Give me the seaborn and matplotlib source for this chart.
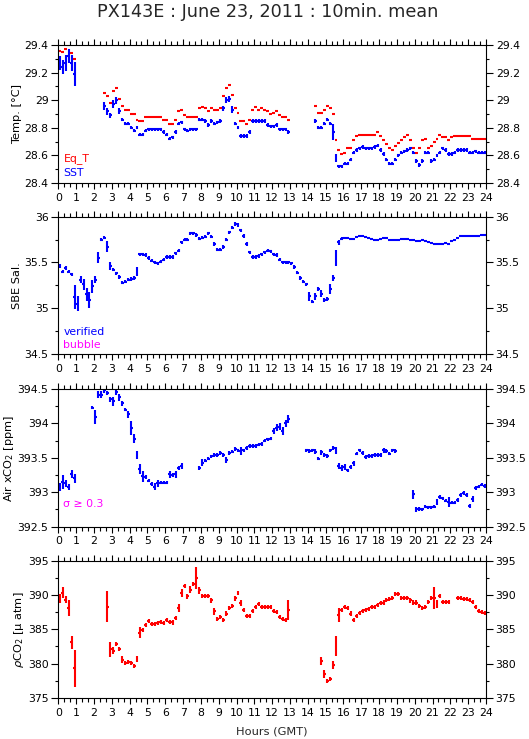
import numpy as np
import matplotlib
matplotlib.use("Agg")
import matplotlib.pyplot as plt
import seaborn as sns
from matplotlib.ticker import MultipleLocator, FuncFormatter

nan = np.nan

# 10-minute slots over the day (slot centres in hours)
hours = np.arange(144) / 6 + 1 / 12
half_slot = 1 / 12

eq_t = [29.36, 29.35, 29.37, 29.40, 29.34, 29.30, nan, nan, nan, nan, nan, nan,
        nan, nan, nan, 29.05, 29.03, 28.98, 29.07, 29.09, 29.01, 28.96, 28.93, 28.93,
        28.90, 28.90, 28.86, 28.85, 28.85, 28.88, 28.88, 28.88, 28.88, 28.88, 28.88, 28.86,
        28.86, 28.83, 28.83, 28.86, 28.92, 28.93, 28.89, 28.88, 28.88, 28.88, 28.88, 28.94,
        28.95, 28.94, 28.92, 28.94, 28.93, 28.93, 28.94, 29.03, 29.09, 29.11, 29.04, 28.94,
        28.91, 28.85, 28.85, 28.83, 28.86, 28.93, 28.95, 28.93, 28.94, 28.93, 28.92, 28.90,
        28.91, 28.92, 28.89, 28.88, 28.88, 28.86, nan, nan, nan, nan, nan, nan,
        nan, nan, 28.96, 28.91, 28.91, 28.93, 28.96, 28.94, 28.90, 28.71, 28.64, 28.61,
        28.62, 28.65, 28.65, 28.71, 28.74, 28.75, 28.75, 28.75, 28.75, 28.75, 28.75, 28.77,
        28.74, 28.71, 28.68, 28.65, 28.64, 28.67, 28.69, 28.71, 28.73, 28.75, 28.71, 28.65,
        28.62, 28.65, 28.71, 28.72, 28.65, 28.67, 28.70, 28.72, 28.75, 28.73, 28.73, 28.71,
        28.73, 28.74, 28.74, 28.74, 28.74, 28.74, 28.74, 28.72, 28.72, 28.72, 28.72, 28.72]

sst = [29.27, 29.24, 29.27, 29.32, 29.27, 29.19, nan, nan, nan, nan, nan, nan,
       nan, nan, nan, 28.96, 28.92, 28.89, 28.97, 29.00, 28.92, 28.86, 28.83, 28.83,
       28.80, 28.78, 28.80, 28.75, 28.75, 28.78, 28.79, 28.79, 28.79, 28.79, 28.79, 28.77,
       28.75, 28.72, 28.73, 28.77, 28.83, 28.84, 28.79, 28.78, 28.79, 28.79, 28.79, 28.86,
       28.86, 28.85, 28.82, 28.85, 28.83, 28.84, 28.85, 28.94, 29.00, 29.01, 28.93, 28.83,
       28.80, 28.74, 28.74, 28.74, 28.77, 28.85, 28.85, 28.85, 28.85, 28.85, 28.82, 28.81,
       28.81, 28.82, 28.79, 28.79, 28.79, 28.77, nan, nan, nan, nan, nan, nan,
       nan, nan, 28.85, 28.80, 28.80, 28.83, 28.86, 28.83, 28.77, 28.58, 28.52, 28.52,
       28.54, 28.54, 28.57, 28.62, 28.64, 28.65, 28.66, 28.65, 28.65, 28.65, 28.66, 28.67,
       28.64, 28.61, 28.57, 28.54, 28.54, 28.57, 28.60, 28.62, 28.63, 28.64, 28.65, 28.62,
       28.56, 28.53, 28.56, 28.62, 28.62, 28.56, 28.57, 28.60, 28.62, 28.65, 28.64, 28.61,
       28.61, 28.62, 28.64, 28.64, 28.64, 28.64, 28.62, 28.62, 28.63, 28.62, 28.62, 28.62]
sst_err_default = 0.012
sst_err_big = {0: 0.05, 1: 0.05, 2: 0.06, 3: 0.05, 4: 0.06, 5: 0.09, 15: 0.03, 16: 0.025,
               17: 0.02, 18: 0.03, 19: 0.025, 20: 0.02, 55: 0.02, 56: 0.02, 57: 0.02,
               58: 0.025, 92: 0.06, 93: 0.03}

salinity = [35.46, 35.40, 35.44, 35.40, 35.37, 35.12, 35.05, 35.31, 35.26, 35.15, 35.09, 35.24,
            35.31, 35.55, 35.75, 35.77, 35.67, 35.46, 35.42, 35.38, 35.34, 35.28, 35.29, 35.31,
            35.32, 35.33, 35.40, 35.59, 35.59, 35.58, 35.55, 35.52, 35.50, 35.49, 35.51, 35.53,
            35.56, 35.56, 35.56, 35.60, 35.63, 35.72, 35.75, 35.75, 35.82, 35.82, 35.80, 35.76,
            35.77, 35.78, 35.82, 35.78, 35.70, 35.64, 35.64, 35.67, 35.75, 35.83, 35.88, 35.92,
            35.91, 35.85, 35.79, 35.70, 35.61, 35.56, 35.56, 35.57, 35.59, 35.61, 35.63, 35.62,
            35.59, 35.58, 35.53, 35.50, 35.50, 35.50, 35.49, 35.45, 35.39, 35.33, 35.29, 35.26,
            35.13, 35.07, 35.13, 35.21, 35.16, 35.09, 35.10, 35.21, 35.33, 35.55, 35.72, 35.76,
            35.77, 35.77, 35.76, 35.76, 35.78, 35.79, 35.79, 35.78, 35.77, 35.76, 35.75, 35.75,
            35.76, 35.77, 35.77, 35.75, 35.74, 35.74, 35.75, 35.76, 35.76, 35.76, 35.75, 35.74,
            35.73, 35.73, 35.75, 35.73, 35.72, 35.71, 35.70, 35.70, 35.70, 35.70, 35.71, 35.70,
            35.73, 35.75, 35.77, 35.79, 35.79, 35.79, 35.79, 35.79, 35.79, 35.79, 35.80, 35.80]
sal_err_default = 0.018
sal_err_late = 0.005
sal_err_big = {5: 0.13, 6: 0.08, 7: 0.04, 8: 0.06, 9: 0.07, 10: 0.09, 11: 0.07, 12: 0.04,
               13: 0.06, 16: 0.06, 17: 0.04, 26: 0.045, 84: 0.05, 86: 0.04, 88: 0.04,
               91: 0.05, 92: 0.03, 93: 0.09, 94: 0.03}

air_xco2 = [393.08, 393.15, 393.13, 393.08, 393.27, 393.20, nan, nan, nan, nan, nan, 394.23,
            394.09, 394.42, 394.42, 394.48, 394.44, 394.35, 394.32, 394.46, 394.38, 394.29, 394.20, 394.13,
            393.93, 393.78, 393.54, 393.34, 393.23, 393.22, 393.17, 393.12, 393.08, 393.13, 393.14, 393.14,
            393.14, 393.26, 393.25, 393.26, 393.35, 393.38, nan, nan, nan, nan, nan, 393.35,
            393.43, 393.46, 393.49, 393.52, 393.54, 393.54, 393.57, 393.54, 393.47, 393.57, 393.59, 393.63,
            393.61, 393.60, 393.61, 393.64, 393.67, 393.67, 393.67, 393.69, 393.70, 393.75, 393.77, 393.78,
            393.89, 393.94, 393.95, 393.89, 394.00, 394.06, nan, nan, nan, nan, nan, 393.61,
            393.60, 393.61, 393.59, 393.49, 393.58, 393.54, 393.53, 393.61, 393.64, 393.61, 393.38, 393.35,
            393.37, 393.32, 393.37, 393.42, 393.56, 393.61, 393.57, 393.51, 393.53, 393.53, 393.54, 393.54,
            393.54, 393.61, 393.60, 393.56, 393.61, 393.60, nan, nan, nan, nan, nan, 392.97,
            392.75, 392.76, 392.75, 392.79, 392.78, 392.78, 392.79, 392.86, 392.93, 392.91, 392.88, 392.86,
            392.85, 392.85, 392.89, 392.96, 392.99, 392.96, 392.80, 392.90, 393.06, 393.08, 393.11, 393.09]
air_err_default = 0.025
air_err_big = {0: 0.06, 1: 0.1, 2: 0.05, 3: 0.04, 4: 0.06, 5: 0.06, 12: 0.1, 13: 0.05, 14: 0.05,
               15: 0.04, 17: 0.04, 18: 0.06, 19: 0.04, 20: 0.05, 21: 0.04, 23: 0.05, 24: 0.1,
               25: 0.07, 26: 0.06, 27: 0.07, 28: 0.08, 32: 0.05, 33: 0.05, 37: 0.05, 39: 0.05,
               41: 0.04, 48: 0.05, 56: 0.04, 61: 0.06, 72: 0.05, 73: 0.05, 74: 0.05, 75: 0.06,
               76: 0.05, 77: 0.06, 86: 0.04, 88: 0.04, 93: 0.05, 94: 0.04, 95: 0.04, 96: 0.04,
               99: 0.04, 109: 0.04, 119: 0.07, 120: 0.04, 127: 0.04, 131: 0.07, 139: 0.04}

pco2 = [389.5, 390.3, 389.3, 388.1, 383.1, 379.3, nan, nan, nan, nan, nan, nan,
        nan, nan, nan, nan, 388.3, 382.1, 381.9, 382.9, 382.1, 380.6, 380.1, 380.2,
        380.1, 379.7, 380.7, 384.5, 384.9, 385.6, 386.2, 385.8, 385.8, 385.9, 386.1, 385.9,
        386.3, 386.1, 386.0, 386.6, 388.1, 390.3, 391.3, 389.8, 390.8, 391.6, 392.5, 390.7,
        389.9, 389.8, 389.8, 389.2, 387.6, 386.5, 386.8, 386.4, 387.3, 388.1, 388.4, 389.5,
        390.3, 388.8, 387.8, 386.9, 387.0, 387.7, 388.3, 388.7, 388.2, 388.2, 388.3, 388.2,
        387.7, 387.5, 386.8, 386.5, 386.4, 387.8, nan, nan, nan, nan, nan, nan,
        nan, nan, nan, nan, 380.4, 378.5, 377.5, 377.8, 379.8, 382.6, 387.1, 387.8,
        388.2, 388.1, 387.3, 386.4, 386.9, 387.4, 387.7, 387.8, 388.0, 388.2, 388.3, 388.6,
        388.8, 388.9, 389.3, 389.4, 389.5, 390.1, 390.1, 389.5, 389.6, 389.6, 389.2, 388.9,
        388.9, 388.4, 388.1, 388.2, 389.0, 389.5, 389.5, 388.7, 389.9, 389.0, 389.0, 389.0,
        nan, nan, 389.6, 389.6, 389.4, 389.4, 389.3, 389.0, 388.2, 387.7, 387.5, 387.4]
pco2_err_default = 0.3
pco2_err_big = {0: 0.7, 1: 0.8, 2: 0.5, 3: 1.2, 4: 1.0, 5: 2.7, 16: 2.3, 17: 1.1, 18: 0.5,
                21: 0.5, 26: 0.4, 27: 0.8, 40: 0.6, 41: 0.6, 43: 0.4, 44: 0.5, 46: 1.6,
                47: 0.5, 52: 0.5, 59: 0.4, 61: 0.4, 77: 1.5, 88: 0.6, 89: 0.6, 92: 0.6,
                93: 1.5, 94: 1.0, 126: 1.6, 127: 0.6}

x_ticks = list(range(0, 25))


def build_err(default, big, late=None, late_from=None):
    e = np.full(144, default)
    if late is not None:
        e[late_from:] = late
    for k, v in big.items():
        e[k] = v
    return e


RED = "#ff0000"
BLUE = "#0000ff"
MAGENTA = "#ff00ff"
FS = 7.8

sns.set_style("ticks")
plt.rcParams["font.family"] = ["DejaVu Sans"]
plt.rcParams["mathtext.fontset"] = "dejavusans"

fig = plt.figure(figsize=(5.29, 7.39), dpi=100)
left, width = 0.1102, 0.8085
rects = [(0.7524, 0.1867), (0.5210, 0.1858), (0.2873, 0.1863), (0.0555, 0.1858)]
axes = [fig.add_axes([left, b, width, h]) for b, h in rects]


def draw(ax, vals, errs, color):
    ax.errorbar(hours, np.array(vals, dtype=float), xerr=half_slot, yerr=errs,
                fmt="none", ecolor=color, elinewidth=1.5, capsize=0)


draw(axes[0], eq_t, np.zeros(144), RED)
draw(axes[0], sst, build_err(sst_err_default, sst_err_big), BLUE)
draw(axes[1], salinity, build_err(sal_err_default, sal_err_big, sal_err_late, 96), BLUE)
draw(axes[2], air_xco2, build_err(air_err_default, air_err_big), BLUE)
draw(axes[3], pco2, build_err(pco2_err_default, pco2_err_big), RED)

ylims = [(28.4, 29.4, 0.2, 0.1), (34.5, 36, 0.5, 0.25), (392.5, 394.5, 0.5, 0.25), (375, 395, 5, 2.5)]
ylabels = ["Temp. [°C]", "SBE Sal.", "Air xCO$_2$ [ppm]", r"$\rho$CO$_2$ [μ atm]"]

fmt = FuncFormatter(lambda v, p: f"{v:g}")
for ax, (y0, y1, maj, mnr), lab in zip(axes, ylims, ylabels):
    ax.set_xlim(0, 24)
    ax.set_ylim(y0, y1)
    ax.set_xticks(x_ticks)
    ax.xaxis.set_minor_locator(MultipleLocator(1 / 3))
    ax.yaxis.set_major_locator(MultipleLocator(maj))
    ax.yaxis.set_minor_locator(MultipleLocator(mnr))
    ax.xaxis.set_major_formatter(fmt)
    ax.yaxis.set_major_formatter(fmt)
    for s in ax.spines.values():
        s.set_visible(True)
        s.set_color("black")
        s.set_linewidth(0.8)
    ax.tick_params(axis="both", which="both", direction="out", top=True, right=True,
                   labelright=True, colors="black", labelsize=FS, width=0.8)
    ax.tick_params(axis="x", which="major", length=4, pad=3)
    ax.tick_params(axis="x", which="minor", length=3)
    ax.tick_params(axis="y", which="major", length=5, pad=2)
    ax.tick_params(axis="y", which="minor", length=2.5)
    ax.set_ylabel(lab, fontsize=FS + 0.4, color="black", labelpad=1.5)
    ax.set_facecolor("white")
    ax.grid(False)

axes[0].text(0.012, 0.18, "Eq_T", color=RED, fontsize=FS, transform=axes[0].transAxes, va="center")
axes[0].text(0.012, 0.072, "SST", color=BLUE, fontsize=FS, transform=axes[0].transAxes, va="center")
axes[1].text(0.012, 0.16, "verified", color=BLUE, fontsize=FS, transform=axes[1].transAxes, va="center")
axes[1].text(0.012, 0.066, "bubble", color=MAGENTA, fontsize=FS, transform=axes[1].transAxes, va="center")
axes[2].text(0.012, 0.167, "σ ≥ 0.3", color=MAGENTA, fontsize=FS, transform=axes[2].transAxes, va="center")

fig.text(0.506, 0.984, "PX143E : June 23, 2011 : 10min. mean", ha="center", va="center", fontsize=12.7)
fig.text(0.514, 0.0095, "Hours (GMT)", ha="center", va="center", fontsize=FS + 0.4)

fig.savefig("out.png", dpi=100, facecolor="white")
